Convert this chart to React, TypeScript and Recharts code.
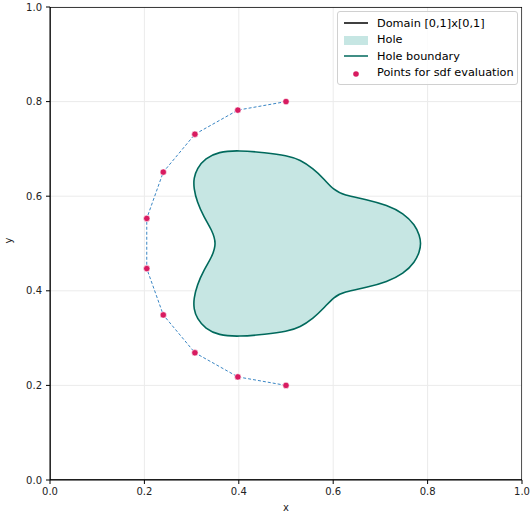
import React from "react"
import { CartesianGrid, ComposedChart, Curve, Scatter, XAxis, YAxis } from "recharts"

// upper half of the hole boundary (right tip -> inner notch);
// the lower half is its mirror about y = 0.5
const holeUpperX = [
  0.786, 0.783, 0.7735, 0.749, 0.714, 0.671, 0.622, 0.601, 0.58, 0.558, 0.53, 0.502, 0.456,
  0.4, 0.357, 0.329, 0.3115, 0.3045, 0.3045, 0.3115, 0.3255, 0.343, 0.353,
]
const holeUpperY = [
  0.5, 0.517, 0.539, 0.564, 0.581, 0.593, 0.6025, 0.613, 0.637, 0.658, 0.677, 0.686, 0.692,
  0.697, 0.694, 0.68, 0.659, 0.638, 0.617, 0.588, 0.557, 0.5285, 0.5,
]

// sdf evaluation points
const ptsX = [0.5, 0.398, 0.307, 0.24, 0.205, 0.205, 0.24, 0.307, 0.398, 0.5]
const ptsY = [0.8, 0.782, 0.731, 0.651, 0.553, 0.447, 0.349, 0.269, 0.218, 0.2]

const domainX = [0, 1, 1, 0, 0]
const domainY = [0, 0, 1, 1, 0]

const ticks = [0, 0.2, 0.4, 0.6, 0.8, 1]

const FILL = "#c6e6e3"
const EDGE = "#00695c"
const PINK = "#d81b60"
const BLUE = "#3a86c4"

const lowerX = holeUpperX.slice(1, -1).reverse()
const lowerY = holeUpperY.slice(1, -1).reverse().map((y) => 1 - y)
const holeOutline = [
  ...holeUpperX.map((x, i) => ({ x, y: holeUpperY[i] })),
  ...lowerX.map((x, i) => ({ x, y: lowerY[i] })),
]

const pointData = ptsX.map((x, i) => ({ x, y: ptsY[i] }))
const domainData = domainX.map((x, i) => ({ x, y: domainY[i] }))

const legendItems = [
  { label: "Domain [0,1]x[0,1]", kind: "line", color: "#000" },
  { label: "Hole", kind: "patch", color: FILL },
  { label: "Hole boundary", kind: "line", color: EDGE },
  { label: "Points for sdf evaluation", kind: "dot", color: PINK },
]

function LegendBox() {
  return (
    <div
      style={{
        position: "absolute",
        left: 337,
        top: 11,
        width: 179,
        padding: "3px 0 3px 0",
        border: "1px solid #d0d0d0",
        borderRadius: 3,
        background: "rgba(255,255,255,0.85)",
        fontFamily: "DejaVu Sans",
        fontSize: 11.3,
        color: "#000",
      }}
    >
      {legendItems.map((it) => (
        <div key={it.label} style={{ display: "flex", alignItems: "center", height: 16.5 }}>
          <svg width={38} height={14} style={{ flex: "none" }}>
            {it.kind === "line" && <line x1={6} x2={30} y1={7} y2={7} stroke={it.color} strokeWidth={1.5} />}
            {it.kind === "patch" && <rect x={6} y={3} width={24} height={9} fill={it.color} />}
            {it.kind === "dot" && <circle cx={18} cy={8} r={2.8} fill={it.color} />}
          </svg>
          <span style={{ marginLeft: 1 }}>{it.label}</span>
        </div>
      ))}
    </div>
  )
}

export default function App() {
  const tickStyle = { fill: "#222", fontSize: 10, fontFamily: "DejaVu Sans" }
  return (
    <div style={{ position: "absolute", left: 0, top: 0, width: 531, height: 514, background: "#fff" }}>
      <ComposedChart width={531} height={514} margin={{ top: 7, right: 9, left: 0, bottom: 0 }}>
        <CartesianGrid stroke="#ebebeb" strokeWidth={1} horizontalValues={ticks} verticalValues={ticks} />
        <XAxis
          type="number"
          dataKey="x"
          domain={[0, 1]}
          ticks={ticks}
          tickFormatter={(v) => v.toFixed(1)}
          tick={tickStyle}
          tickSize={4}
          tickMargin={4}
          height={34}
          stroke="#000"
          allowDataOverflow
          label={{ value: "x", position: "insideBottom", offset: 3, style: { fill: "#222", fontSize: 10, fontFamily: "DejaVu Sans" } }}
        />
        <YAxis
          type="number"
          dataKey="y"
          domain={[0, 1]}
          ticks={ticks}
          tickFormatter={(v) => v.toFixed(1)}
          tick={tickStyle}
          tickSize={4}
          tickMargin={4}
          width={50}
          stroke="#000"
          allowDataOverflow
          label={{ value: "y", angle: -90, position: "insideLeft", offset: 8, style: { fill: "#222", fontSize: 10, fontFamily: "DejaVu Sans" } }}
        />
        <Scatter
          data={holeOutline}
          isAnimationActive={false}
          shape={() => <g />}
          line={(p: any) => (
            <Curve points={p.points} type="basisClosed" fill={FILL} stroke={EDGE} strokeWidth={1.6} />
          )}
        />
        <Scatter
          data={pointData}
          isAnimationActive={false}
          fill={PINK}
          line={{ stroke: BLUE, strokeWidth: 1, strokeDasharray: "3 2" }}
          shape={(p: any) => <circle cx={p.cx} cy={p.cy} r={3.2} fill={PINK} stroke="#fff" strokeWidth={0.6} />}
        />
        <Scatter
          data={domainData}
          isAnimationActive={false}
          shape={() => <g />}
          line={{ stroke: "#000", strokeWidth: 1.3 }}
        />
      </ComposedChart>
      <LegendBox />
    </div>
  )
}
